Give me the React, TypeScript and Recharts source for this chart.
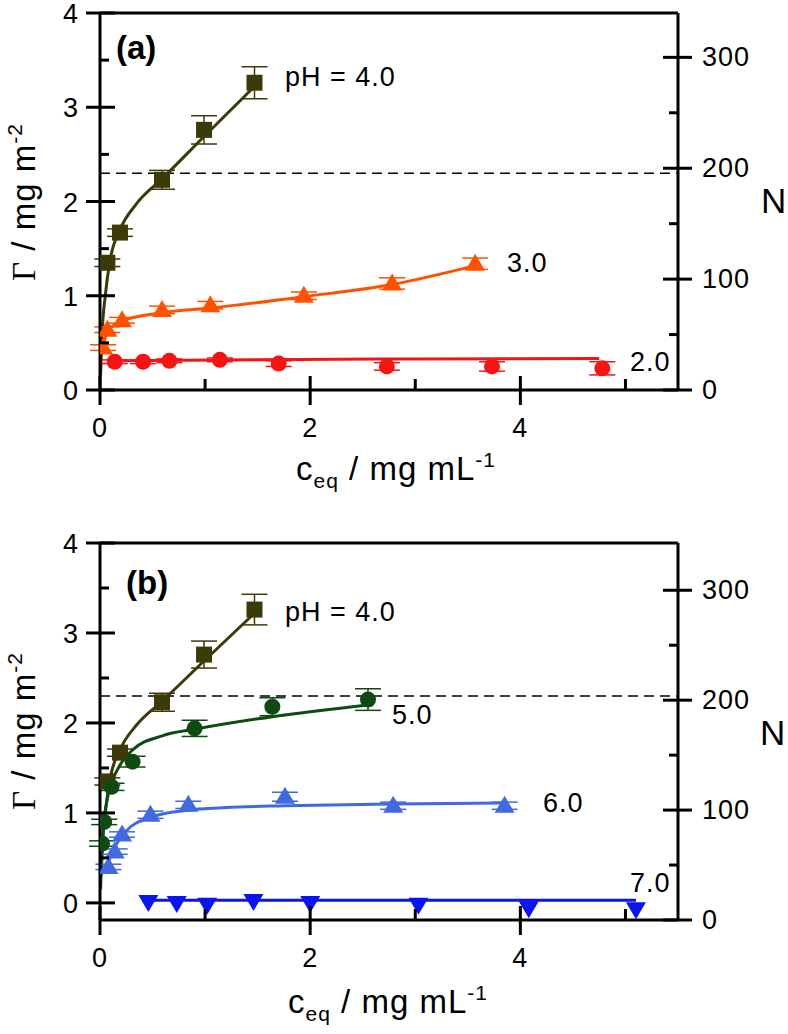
import { ComposedChart, Line, Scatter, XAxis, YAxis, ErrorBar, ReferenceLine } from 'recharts';

const FONT = '"Liberation Sans", Arial, sans-serif';

// shared axis ticks
const xTicks = [0, 1, 2, 3, 4, 5];
const leftTicks = [0, 0.5, 1, 1.5, 2, 2.5, 3, 3.5, 4];
const rightTicks = [0, 50, 100, 150, 200, 250, 300];
const monolayer = 2.3;

// pH 4.0 (same in both panels)
const ph4X = [0.07, 0.19, 0.59, 0.99, 1.47];
const ph4Y = [1.35, 1.67, 2.23, 2.76, 3.26];
const ph4Err = [0.04, 0.04, 0.1, 0.15, 0.17];
const ph4FitX = [0.005, 0.02, 0.05, 0.1, 0.19, 0.35, 0.59, 1.0, 1.47];
const ph4FitY = [0.15, 0.6, 1.0, 1.4, 1.7, 1.98, 2.24, 2.7, 3.22];

// pH 3.0
const ph3X = [0.03, 0.07, 0.21, 0.59, 1.05, 1.94, 2.78, 3.57];
const ph3Y = [0.45, 0.64, 0.74, 0.85, 0.9, 1.0, 1.13, 1.34];
const ph3Err = [0.03, 0.03, 0.03, 0.04, 0.04, 0.04, 0.06, 0.06];
const ph3FitX = [0.02, 0.08, 0.2, 0.6, 1.05, 1.94, 2.78, 3.57];
const ph3FitY = [0.45, 0.63, 0.73, 0.82, 0.87, 0.99, 1.12, 1.32];

// pH 2.0
const ph2X = [0.14, 0.41, 0.66, 1.14, 1.7, 2.73, 3.73, 4.78];
const ph2Y = [0.3, 0.3, 0.31, 0.32, 0.28, 0.25, 0.25, 0.23];
const ph2Err = [0.02, 0.02, 0.02, 0.02, 0.03, 0.04, 0.05, 0.07];
const ph2FitX = [0.14, 1.5, 3.0, 4.75];
const ph2FitY = [0.31, 0.32, 0.33, 0.335];

// pH 5.0
const ph5X = [0.02, 0.04, 0.11, 0.31, 0.9, 1.64, 2.55];
const ph5Y = [0.66, 0.9, 1.29, 1.57, 1.94, 2.18, 2.26];
const ph5Err = [0.03, 0.03, 0.04, 0.06, 0.09, 0.1, 0.12];
const ph5FitX = [0.01, 0.03, 0.06, 0.11, 0.2, 0.31, 0.6, 0.9, 1.64, 2.55];
const ph5FitY = [0.3, 0.8, 1.1, 1.33, 1.55, 1.7, 1.86, 1.93, 2.07, 2.2];

// pH 6.0
const ph6X = [0.08, 0.14, 0.21, 0.48, 0.84, 1.76, 2.79, 3.85];
const ph6Y = [0.4, 0.57, 0.76, 0.98, 1.09, 1.18, 1.08, 1.08];
const ph6Err = [0.03, 0.03, 0.03, 0.04, 0.04, 0.05, 0.04, 0.04];
const ph6FitX = [0.06, 0.14, 0.25, 0.48, 0.84, 1.2, 1.76, 2.79, 3.85];
const ph6FitY = [0.4, 0.62, 0.8, 0.95, 1.03, 1.06, 1.08, 1.1, 1.11];

// pH 7.0
const ph7X = [0.46, 0.73, 1.02, 1.46, 2.0, 3.03, 4.08, 5.1];
const ph7Y = [0.01, 0.0, -0.02, 0.02, 0.0, -0.02, -0.06, -0.07];
const ph7FitX = [0.46, 2.5, 5.1];
const ph7FitY = [0.03, 0.03, 0.03];

const pts = (xs: number[], ys: number[], errs?: number[]) =>
  xs.map((x, i) => ({ x, y: ys[i], err: errs ? errs[i] : 0 }));

type Series = { name: string; color: string; kind: string; data: any[]; fit: any[]; bars: boolean };

const ph4 = { name: 'ph4', color: '#3b3a08', kind: 'square', data: pts(ph4X, ph4Y, ph4Err), fit: pts(ph4FitX, ph4FitY), bars: true };
const panelA: Series[] = [
  ph4,
  { name: 'ph3', color: '#ff5200', kind: 'up', data: pts(ph3X, ph3Y, ph3Err), fit: pts(ph3FitX, ph3FitY), bars: true },
  { name: 'ph2', color: '#f51414', kind: 'circle', data: pts(ph2X, ph2Y, ph2Err), fit: pts(ph2FitX, ph2FitY), bars: true },
];
const panelB: Series[] = [
  ph4,
  { name: 'ph5', color: '#0f4a12', kind: 'circle', data: pts(ph5X, ph5Y, ph5Err), fit: pts(ph5FitX, ph5FitY), bars: true },
  { name: 'ph6', color: '#4169e1', kind: 'up', data: pts(ph6X, ph6Y, ph6Err), fit: pts(ph6FitX, ph6FitY), bars: true },
  { name: 'ph7', color: '#0a14f0', kind: 'down', data: pts(ph7X, ph7Y), fit: pts(ph7FitX, ph7FitY), bars: false },
];

const Marker = ({ cx, cy, kind, color }: any) => {
  if (cx == null || cy == null) return null;
  if (kind === 'square') return <rect x={cx - 8} y={cy - 8} width={16} height={16} fill={color} />;
  if (kind === 'circle') return <circle cx={cx} cy={cy} r={8} fill={color} />;
  if (kind === 'up') return <path d={`M${cx},${cy - 10}L${cx + 10},${cy + 7}L${cx - 10},${cy + 7}Z`} fill={color} />;
  return <path d={`M${cx},${cy + 10}L${cx + 10},${cy - 7}L${cx - 10},${cy - 7}Z`} fill={color} />;
};

const tickText = { fontFamily: FONT, fontSize: 27, letterSpacing: 1, fill: '#000' };

const LeftTick = ({ x, y, payload }: any) => {
  const major = Number.isInteger(payload.value);
  return (
    <g>
      <line x1={major ? x - 14 : x} x2={major ? x + 15 : x + 9} y1={y} y2={y} stroke="#000" strokeWidth={3} />
      {major && (
        <text x={x - 21} y={y + 1} textAnchor="end" dominantBaseline="central" {...tickText}>
          {payload.value}
        </text>
      )}
    </g>
  );
};

const RightTick = ({ x, y, payload }: any) => {
  const major = payload.value % 100 === 0;
  return (
    <g>
      <line x1={major ? x - 15 : x - 9} x2={major ? x + 14 : x} y1={y} y2={y} stroke="#000" strokeWidth={3} />
      {major && (
        <text x={x + 24} y={y} textAnchor="start" dominantBaseline="central" {...tickText}>
          {payload.value}
        </text>
      )}
    </g>
  );
};

const BottomTick = ({ x, y, payload }: any) => {
  const major = payload.value % 2 === 0;
  return (
    <g>
      <line x1={x} x2={x} y1={major ? y - 14 : y - 11} y2={major ? y + 15 : y} stroke="#000" strokeWidth={3} />
      {major && (
        <text x={x} y={y + 38} textAnchor="middle" dominantBaseline="central" {...tickText}>
          {payload.value}
        </text>
      )}
    </g>
  );
};

const axisLine = { stroke: '#000', strokeWidth: 3 };

const Panel = ({ series, leftDomain, rightDomain, top, bottom }: any) => (
  <ComposedChart width={788} height={517} margin={{ top, right: 40, bottom, left: 40 }}>
    <XAxis
      type="number"
      dataKey="x"
      domain={[0, 5.5]}
      ticks={xTicks}
      interval={0}
      allowDataOverflow
      height={80}
      tickSize={0}
      tickMargin={0}
      tickLine={false}
      axisLine={axisLine}
      tick={(p: any) => <BottomTick {...p} />}
    />
    <YAxis
      yAxisId="left"
      type="number"
      dataKey="y"
      domain={leftDomain}
      ticks={leftTicks}
      interval={0}
      allowDataOverflow
      width={60}
      tickSize={0}
      tickMargin={0}
      tickLine={false}
      axisLine={axisLine}
      tick={(p: any) => <LeftTick {...p} />}
    />
    <YAxis
      yAxisId="right"
      orientation="right"
      type="number"
      domain={rightDomain}
      ticks={rightTicks}
      interval={0}
      allowDataOverflow
      width={70}
      tickSize={0}
      tickMargin={0}
      tickLine={false}
      axisLine={axisLine}
      tick={(p: any) => <RightTick {...p} />}
    />
    <ReferenceLine yAxisId="left" y={4} stroke="#000" strokeWidth={3} />
    <ReferenceLine yAxisId="left" y={monolayer} stroke="#000" strokeWidth={1.6} strokeDasharray="10 6" />
    {series.map((s: Series) => (
      <Line
        key={'fit' + s.name}
        yAxisId="left"
        data={s.fit}
        dataKey="y"
        type="monotone"
        stroke={s.color}
        strokeWidth={3}
        dot={false}
        activeDot={false}
        isAnimationActive={false}
      />
    ))}
    {series.map((s: Series) => (
      <Scatter
        key={'pts' + s.name}
        yAxisId="left"
        data={s.data}
        dataKey="y"
        fill={s.color}
        isAnimationActive={false}
        shape={(p: any) => <Marker cx={p.cx} cy={p.cy} kind={s.kind} color={s.color} />}
      >
        {s.bars && <ErrorBar dataKey="err" direction="y" width={13} strokeWidth={1.5} stroke={s.color} />}
      </Scatter>
    ))}
  </ComposedChart>
);

const label = { fontFamily: FONT, fontSize: 27, letterSpacing: 1, fill: '#000' };
const title = { fontFamily: FONT, fontSize: 33, letterSpacing: 1, fill: '#000' };

const YTitle = ({ cy }: { cy: number }) => (
  <text transform={`translate(35,${cy}) rotate(-90)`} textAnchor="middle" {...title}>
    <tspan fontFamily='"Liberation Serif", serif'>Γ</tspan>
    <tspan> / mg m</tspan>
    <tspan fontSize={21} dy={-13}>-2</tspan>
  </text>
);

const XTitle = ({ cx, by }: { cx: number; by: number }) => (
  <text x={cx} y={by} textAnchor="middle" {...title}>
    c<tspan fontSize={21} dy={8}>eq</tspan>
    <tspan dy={-8}> / mg mL</tspan>
    <tspan fontSize={21} dy={-13}>-1</tspan>
  </text>
);

export default function App() {
  return (
    <div style={{ position: 'absolute', left: 0, top: 0, width: 788, height: 1034, background: '#fff' }}>
      <Panel series={panelA} leftDomain={[0, 4]} rightDomain={[0, 340]} top={13} bottom={47} />
      <Panel series={panelB} leftDomain={[-0.19, 4]} rightDomain={[0, 343]} top={26} bottom={34} />
      <svg width={788} height={1034} style={{ position: 'absolute', left: 0, top: 0, pointerEvents: 'none' }}>
        <text x={116} y={59} fontFamily={FONT} fontSize={33} fontWeight="bold">(a)</text>
        <text x={285} y={77} dominantBaseline="central" {...label}>pH = 4.0</text>
        <text x={507} y={263} dominantBaseline="central" {...label}>3.0</text>
        <text x={630} y={362} dominantBaseline="central" {...label}>2.0</text>
        <YTitle cy={202} />
        <text x={761} y={200} dominantBaseline="central" fontFamily={FONT} fontSize={35} fill="#000">N</text>
        <XTitle cx={396} by={480} />

        <text x={126} y={594} fontFamily={FONT} fontSize={33} fontWeight="bold">(b)</text>
        <text x={285} y={612} dominantBaseline="central" {...label}>pH = 4.0</text>
        <text x={392} y={715} dominantBaseline="central" {...label}>5.0</text>
        <text x={543} y={803} dominantBaseline="central" {...label}>6.0</text>
        <text x={630} y={883} dominantBaseline="central" {...label}>7.0</text>
        <YTitle cy={731} />
        <text x={760} y={732} dominantBaseline="central" fontFamily={FONT} fontSize={35} fill="#000">N</text>
        <XTitle cx={388} by={1013} />
      </svg>
    </div>
  );
}
